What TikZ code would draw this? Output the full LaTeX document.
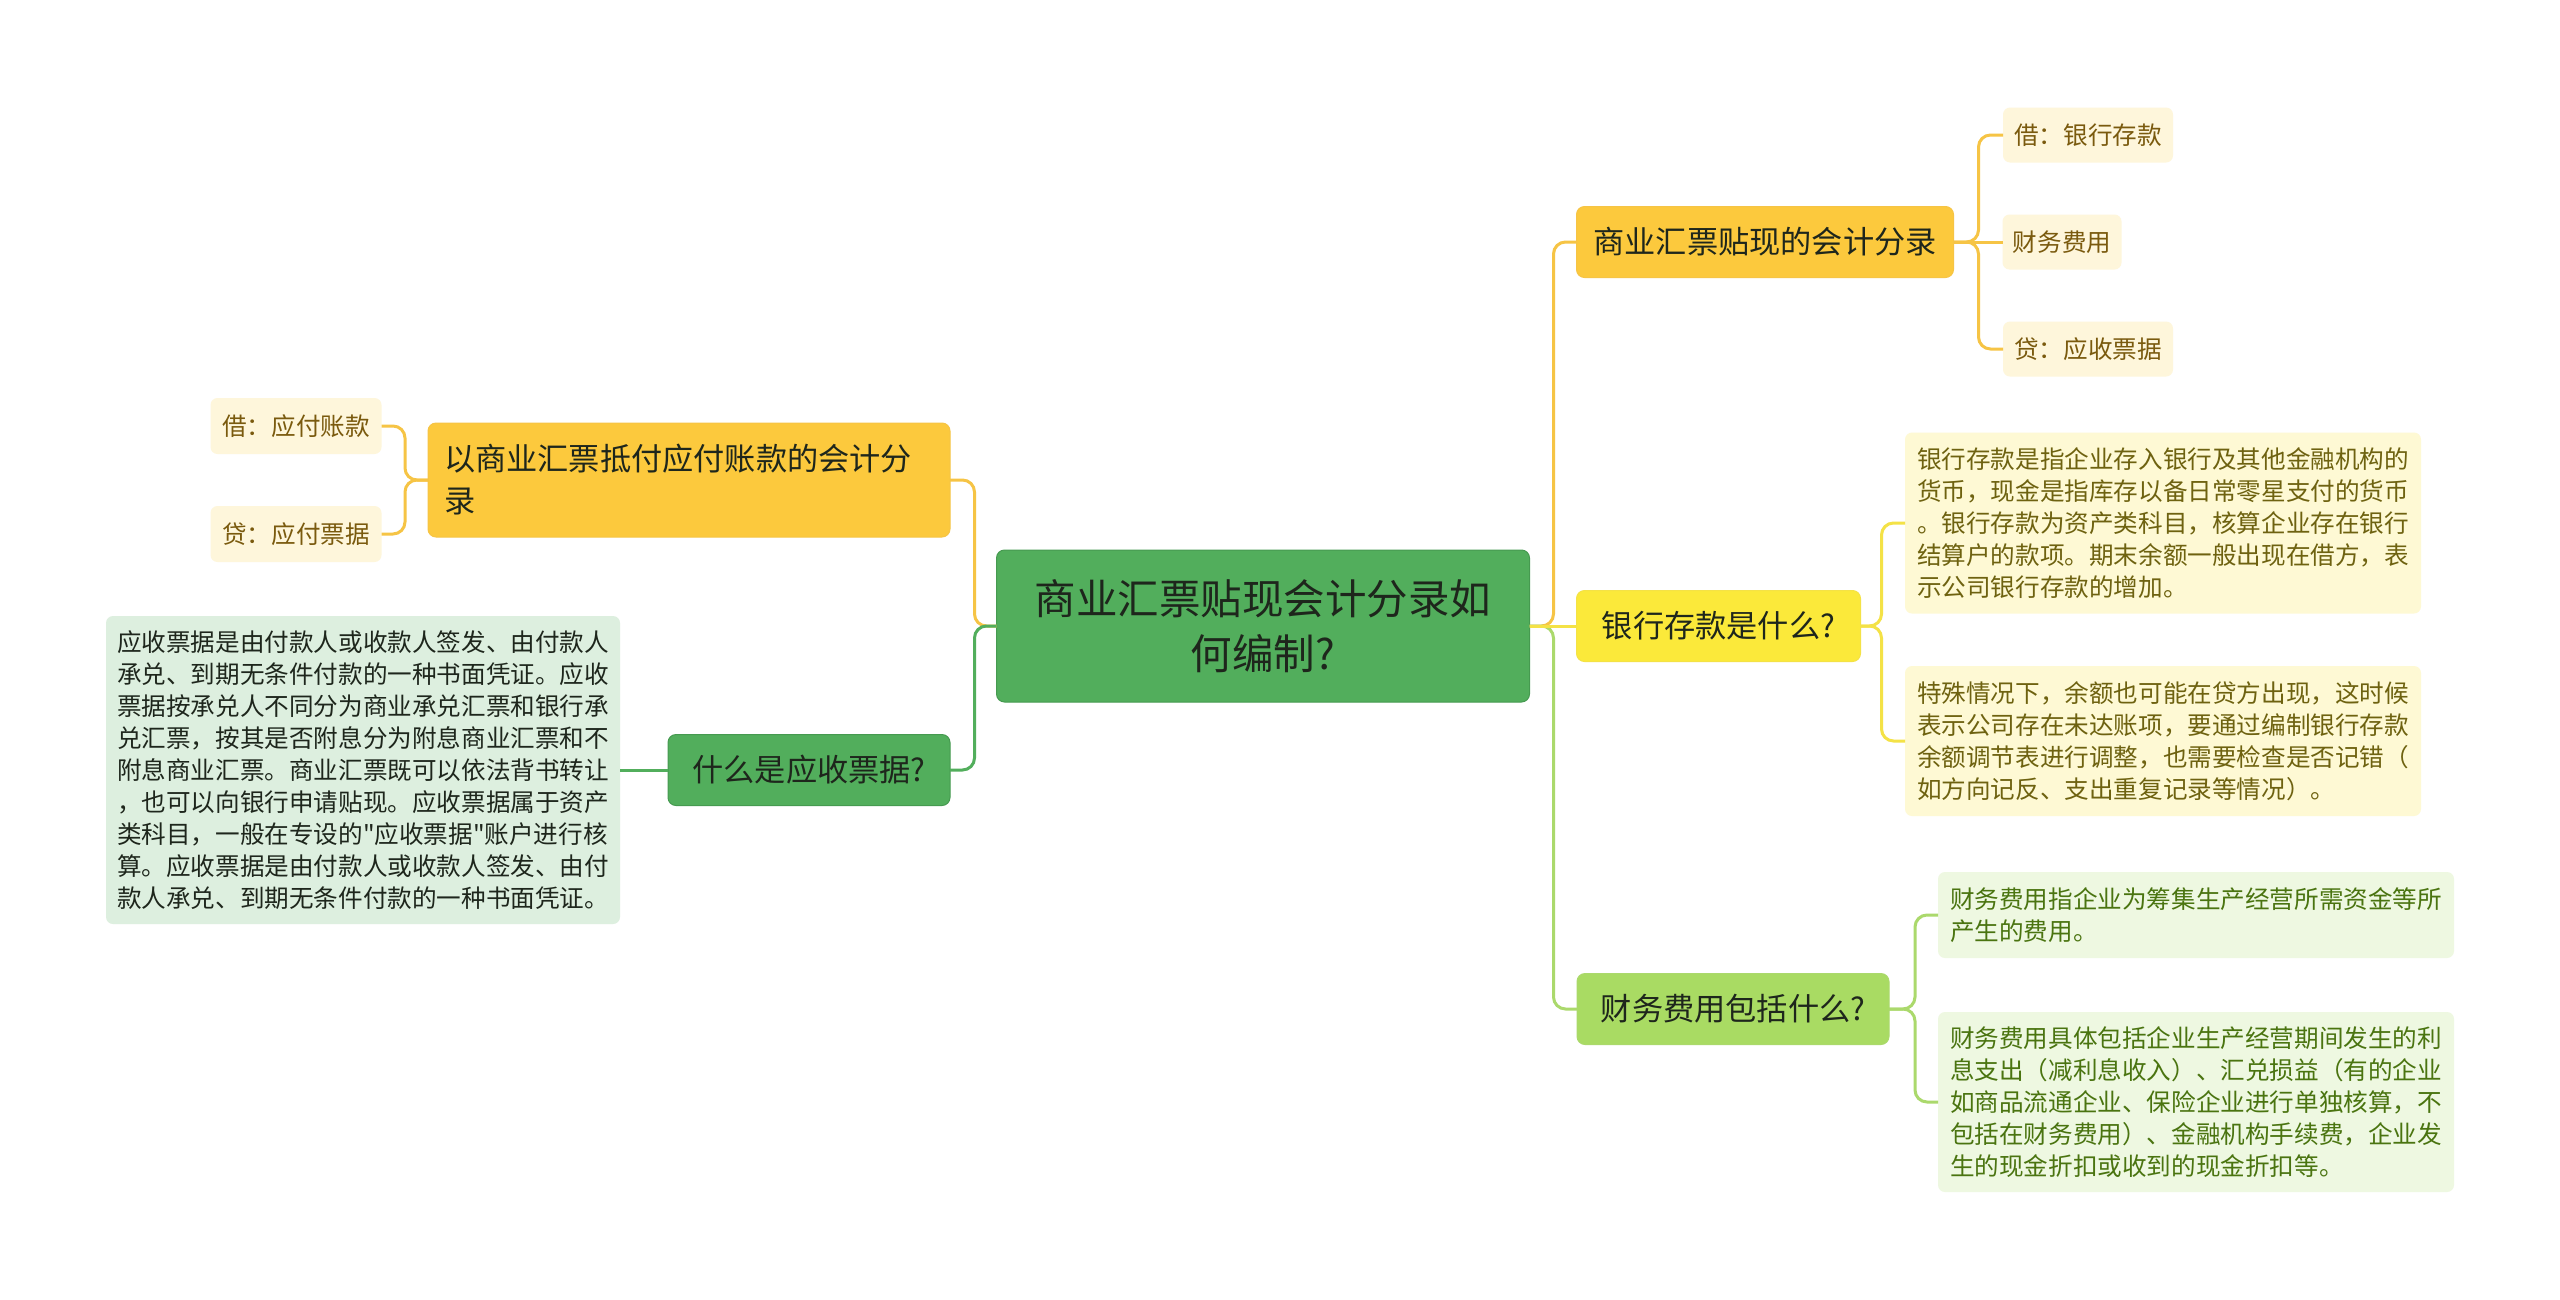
\documentclass[tikz,border=0pt]{standalone}
\usepackage{fontspec}
\setmainfont{Noto Sans CJK SC}[Ligatures=TeXOff]
\usepackage{xcolor}
\usepackage{tikz}
\usetikzlibrary{positioning}
\definecolor{RootGreen}{HTML}{52AE5C}
\definecolor{RootEdge}{HTML}{469A50}
\definecolor{DarkText}{HTML}{1E261C}
\definecolor{TopicOrange}{HTML}{FCC93D}
\definecolor{TopicYellow}{HTML}{FBE93A}
\definecolor{TopicLime}{HTML}{A9DB63}
\definecolor{CreamFill}{HTML}{FEF6DB}
\definecolor{CreamText}{HTML}{7A5A0E}
\definecolor{LemonFill}{HTML}{FEF9D4}
\definecolor{LemonText}{HTML}{6E6210}
\definecolor{LimeFill}{HTML}{EEF8E1}
\definecolor{LimeText}{HTML}{4A7410}
\definecolor{MintFill}{HTML}{DDEFDF}
\definecolor{LineOrange}{HTML}{F6C445}
\definecolor{LineYellow}{HTML}{F4E246}
\definecolor{LineLime}{HTML}{ABD96C}

\begin{document}
\begin{tikzpicture}[
            x=1pt, y=-1pt,
            node distance=48pt,
            rootbox/.style={draw=RootEdge, fill=RootGreen, line width=1pt, rounded corners=8pt, text=DarkText, align=center, inner sep=0pt, outer sep=0pt, font=\fontsize{41.5}{55}\selectfont},
            topic/.style={line width=1pt, rounded corners=8pt, text=DarkText, inner sep=0pt, outer sep=0pt, minimum height=71pt, font=\fontsize{31.2}{42}\selectfont},
            leaf/.style={rounded corners=7pt, align=left, inner sep=0pt, outer sep=0pt, font=\fontsize{24.6}{32}\selectfont},
            link/.style={line width=3pt, rounded corners=12pt}
        ]
            \fill[white] (0,0) rectangle (2560,1299);
            \useasboundingbox (0,0) rectangle (2560,1299);

            \node[rootbox, minimum width=533pt, minimum height=152pt] (root) at (1263,626) {商业汇票贴现会计分录如\\何编制?};

            % left side
            \node[topic, draw=LineOrange, fill=TopicOrange, minimum width=522pt, minimum height=114pt, text width=490pt, align=left] (dikou) at (689,480) {以商业汇票抵付应付账款的会计分\\录};
            \node[leaf, fill=CreamFill, text=CreamText, minimum width=171pt, minimum height=56pt] (jie1) at (296,426) {借：应付账款};
            \node[leaf, fill=CreamFill, text=CreamText, minimum width=171pt, minimum height=56pt] (dai1) at (296,534) {贷：应付票据};

            \node[topic, draw=RootEdge, fill=RootGreen, minimum width=282pt] (yspj) at (809,770) {什么是应收票据?};
            \node[leaf, fill=MintFill, text=DarkText, minimum width=514pt, minimum height=308pt, left=of yspj] (yspjtext) {应收票据是由付款人或收款人签发、由付款人\\承兑、到期无条件付款的一种书面凭证。应收\\票据按承兑人不同分为商业承兑汇票和银行承\\兑汇票，按其是否附息分为附息商业汇票和不\\附息商业汇票。商业汇票既可以依法背书转让\\，也可以向银行申请贴现。应收票据属于资产\\类科目，一般在专设的"应收票据"账户进行核\\算。应收票据是由付款人或收款人签发、由付\\款人承兑、到期无条件付款的一种书面凭证。};

            % right side
            \node[topic, draw=LineOrange, fill=TopicOrange, minimum width=377pt] (tiexian) at (1765,242) {商业汇票贴现的会计分录};
            \node[leaf, fill=CreamFill, text=CreamText, minimum width=170pt, minimum height=55pt] (jie2) at (2088,135) {借：银行存款};
            \node[leaf, fill=CreamFill, text=CreamText, minimum width=119pt, minimum height=55pt, right=49pt of tiexian] (cwfy) {财务费用};
            \node[leaf, fill=CreamFill, text=CreamText, minimum width=170pt, minimum height=55pt] (dai2) at (2088,349) {贷：应收票据};

            \node[topic, draw=LineYellow, fill=TopicYellow, minimum width=284pt, right=47pt of root] (yhck) {银行存款是什么?};
            \node[leaf, fill=LemonFill, text=LemonText, minimum width=516pt, minimum height=181pt] (yhck1) at (2163,523) {银行存款是指企业存入银行及其他金融机构的\\货币，现金是指库存以备日常零星支付的货币\\。银行存款为资产类科目，核算企业存在银行\\结算户的款项。期末余额一般出现在借方，表\\示公司银行存款的增加。};
            \node[leaf, fill=LemonFill, text=LemonText, minimum width=516pt, minimum height=150pt] (yhck2) at (2163,741) {特殊情况下，余额也可能在贷方出现，这时候\\表示公司存在未达账项，要通过编制银行存款\\余额调节表进行调整，也需要检查是否记错（\\如方向记反、支出重复记录等情况）。};

            \node[topic, draw=LineLime, fill=TopicLime, minimum width=312pt] (cwbk) at (1733,1009) {财务费用包括什么?};
            \node[leaf, fill=LimeFill, text=LimeText, minimum width=516pt, minimum height=86pt] (cwbk1) at (2196,915) {财务费用指企业为筹集生产经营所需资金等所\\产生的费用。};
            \node[leaf, fill=LimeFill, text=LimeText, minimum width=516pt, minimum height=180pt] (cwbk2) at (2196,1102) {财务费用具体包括企业生产经营期间发生的利\\息支出（减利息收入）、汇兑损益（有的企业\\如商品流通企业、保险企业进行单独核算，不\\包括在财务费用）、金融机构手续费，企业发\\生的现金折扣或收到的现金折扣等。};

            % connectors
            \draw[link, LineOrange] (root.west) -- ++(-22,0) |- (dikou.east);
            \draw[link, RootGreen] (root.west) -- ++(-22,0) |- (yspj.east);
            \draw[link, LineOrange] (dikou.west) -- ++(-23,0) |- (jie1.east);
            \draw[link, LineOrange] (dikou.west) -- ++(-23,0) |- (dai1.east);
            \draw[link, RootGreen] (yspj) -- (yspjtext);

            \draw[link, LineOrange] (root.east) -- ++(24,0) |- (tiexian.west);
            \draw[link, LineLime] (root.east) -- ++(24,0) |- (cwbk.west);
            \draw[link, LineYellow] (root) -- (yhck);
            \draw[link, LineOrange] (tiexian.east) -- ++(25,0) |- (jie2.west);
            \draw[link, LineOrange] (tiexian) -- (cwfy);
            \draw[link, LineOrange] (tiexian.east) -- ++(25,0) |- (dai2.west);
            \draw[link, LineYellow] (yhck.east) -- ++(21,0) |- (yhck1.west);
            \draw[link, LineYellow] (yhck.east) -- ++(21,0) |- (yhck2.west);
            \draw[link, LineLime] (cwbk.east) -- ++(26,0) |- (cwbk1.west);
            \draw[link, LineLime] (cwbk.east) -- ++(26,0) |- (cwbk2.west);

        \end{tikzpicture}
\end{document}
